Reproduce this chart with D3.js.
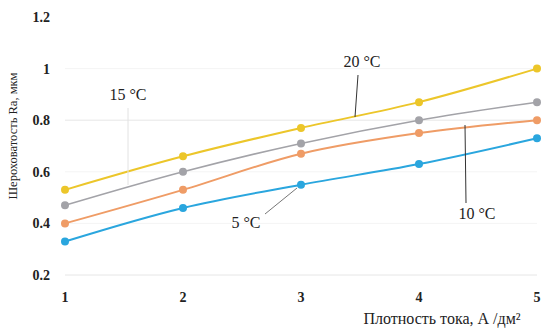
<!DOCTYPE html>
<html>
<head>
<meta charset="utf-8">
<script src="https://cdn.jsdelivr.net/npm/d3@7"></script>
<style>
  body { margin: 0; background: #fff; }
  svg text { font-family: "Liberation Serif", "DejaVu Serif", serif; fill: #222; }
</style>
</head>
<body>
<div id="canvas"></div>
<script>
(function () {
  // current density, A/dm2
  var density = [1, 2, 3, 4, 5];
  var yTicks = [0.2, 0.4, 0.6, 0.8, 1, 1.2];
  var t5 = [0.33, 0.46, 0.55, 0.63, 0.73];
  var t10 = [0.40, 0.53, 0.67, 0.75, 0.80];
  var t15 = [0.47, 0.60, 0.71, 0.80, 0.87];
  var t20 = [0.53, 0.66, 0.77, 0.87, 1.00];

  var width = 542, height = 329;
  var serif = '"Liberation Serif", "DejaVu Serif", serif';
  var svg = d3.select('#canvas').append('svg')
        .attr('width', width)
        .attr('height', height);

  var x = d3.scaleLinear().domain([1, 5]).range([65, 537]);
  var y = d3.scaleLinear().domain([0.2, 1.2]).range([275, 17]);

  // faint gridlines
  svg.selectAll('.grid')
    .data(yTicks.slice(0, 5))
    .enter().append('line')
    .attr('x1', x(1)).attr('x2', x(5))
    .attr('y1', function (d) { return y(d); })
    .attr('y2', function (d) { return y(d); })
    .style('stroke', function (d) { return d === 0.8 || d === 0.2 ? '#e6e6e6' : '#f4f4f4'; })
    .style('stroke-width', 1);

  // y tick labels
  svg.selectAll('.ytick')
    .data(yTicks)
    .enter().append('text')
    .attr('x', 50)
    .attr('y', function (d) { return y(d) + 5; })
    .attr('text-anchor', 'end')
    .style('font-family', serif)
    .style('font-size', '14px')
    .style('font-weight', 'bold')
    .text(function (d) { return d3.format('~g')(d); });

  // x tick labels
  svg.selectAll('.xtick')
    .data(density)
    .enter().append('text')
    .attr('x', function (d) { return x(d); })
    .attr('y', 302)
    .attr('text-anchor', 'middle')
    .style('font-family', serif)
    .style('font-size', '14px')
    .style('font-weight', 'bold')
    .text(function (d) { return d; });

  svg.append('text')
    .attr('transform', 'translate(17,136) rotate(-90)')
    .attr('text-anchor', 'middle')
    .style('font-family', serif)
    .style('font-size', '12.5px')
    .text('Шероховатость Ra, мкм');

  svg.append('text')
    .attr('x', 442)
    .attr('y', 324)
    .attr('text-anchor', 'middle')
    .style('font-family', serif)
    .style('font-size', '16px')
    .text('Плотность тока, А /дм²');

  var series = [
    { values: t5, color: '#2aa6de', w: 2 },
    { values: t10, color: '#ef9c66', w: 2 },
    { values: t15, color: '#a3a3a8', w: 1.5 },
    { values: t20, color: '#ecc62a', w: 2 }
  ];

  var line = d3.line()
        .x(function (d, i) { return x(density[i]); })
        .y(function (d) { return y(d); })
        .curve(d3.curveCatmullRom);

  series.forEach(function (s) {
    svg.append('path')
      .attr('d', line(s.values))
      .style('fill', 'none')
      .style('stroke', s.color)
      .style('stroke-width', s.w);
    svg.selectAll(null)
      .data(s.values)
      .enter().append('circle')
      .attr('cx', function (d, i) { return x(density[i]); })
      .attr('cy', function (d) { return y(d); })
      .attr('r', 4)
      .style('fill', s.color);
  });

  // labels with leader lines
  var notes = [
    { text: '20 °C', tx: 362, ty: 67, lx1: 358, ly1: 75, lx2: 355, ly2: 117, c: '#333' },
    { text: '15 °C', tx: 128, ty: 100, lx1: 128, ly1: 108, lx2: 128, ly2: 185, c: '#e2e2e2' },
    { text: '10 °C', tx: 477, ty: 219, lx1: 465, ly1: 125, lx2: 466, ly2: 203, c: '#333' },
    { text: '5 °C', tx: 246, ty: 228, lx1: 265, ly1: 214, lx2: 297, ly2: 188, c: '#777' }
  ];

  notes.forEach(function (n) {
    svg.append('line')
      .attr('x1', n.lx1).attr('y1', n.ly1)
      .attr('x2', n.lx2).attr('y2', n.ly2)
      .style('stroke', n.c)
      .style('stroke-width', 1);
    svg.append('text')
      .attr('x', n.tx)
      .attr('y', n.ty)
      .attr('text-anchor', 'middle')
      .style('font-family', serif)
      .style('font-size', '16px')
      .text(n.text);
  });
})();
</script>
</body>
</html>
